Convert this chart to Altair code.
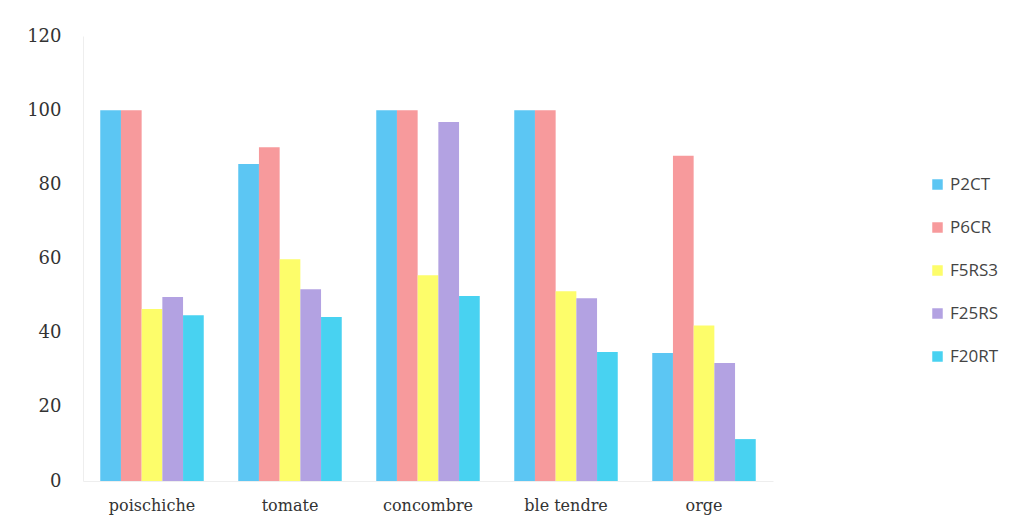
import altair as alt
import pandas as pd

crops = ["poischiche", "tomate", "concombre", "ble tendre", "orge"]
strains = ["P2CT", "P6CR", "F5RS3", "F25RS", "F20RT"]
colors = ["#5cc6f3", "#f79a9c", "#fdfd6a", "#b3a2e2", "#48d2f1"]

p2ct = [100, 85.5, 100, 100, 34.5]
p6cr = [100, 90, 100, 100, 87.7]
f5rs3 = [46.4, 59.8, 55.5, 51.2, 41.9]
f25rs = [49.6, 51.7, 96.8, 49.3, 31.8]
f20rt = [44.7, 44.2, 49.9, 34.8, 11.3]

series = [p2ct, p6cr, f5rs3, f25rs, f20rt]
rows = []
for s, vals in zip(strains, series):
    for c, v in zip(crops, vals):
        rows.append({"culture": c, "souche": s, "valeur": v})
df = pd.DataFrame(rows)

chart = (
    alt.Chart(df)
    .mark_bar()
    .encode(
        x=alt.X(
            "culture:N",
            sort=crops,
            scale=alt.Scale(paddingInner=0.25, paddingOuter=0.125),
            axis=alt.Axis(
                title=None,
                labelAngle=0,
                labelFont="DejaVu Serif",
                labelFontSize=16,
                labelColor="#333333",
                labelPadding=16,
                ticks=False,
                domainColor="#eeeeee",
            ),
        ),
        xOffset=alt.XOffset("souche:N", sort=strains, scale=alt.Scale(paddingInner=0.0)),
        y=alt.Y(
            "valeur:Q",
            scale=alt.Scale(domain=[0, 120]),
            axis=alt.Axis(
                title=None,
                values=[0, 20, 40, 60, 80, 100, 120],
                grid=False,
                ticks=False,
                labelFont="DejaVu Serif",
                labelFontSize=18,
                labelColor="#333333",
                labelPadding=22,
                domainColor="#eeeeee",
            ),
        ),
        color=alt.Color(
            "souche:N",
            sort=strains,
            scale=alt.Scale(domain=strains, range=colors),
            legend=alt.Legend(
                title=None,
                orient="none",
                legendX=846,
                legendY=140,
                symbolType="square",
                symbolSize=110,
                symbolStrokeWidth=0,
                labelFont="Open Sans",
                labelFontSize=17,
                labelColor="#444444",
                rowPadding=25,
                labelOffset=4,
            ),
        ),
    )
    .properties(
        width=690,
        height=445,
        padding={"left": 83, "top": 36, "right": 263, "bottom": 44},
        autosize=alt.AutoSizeParams(type="none"),
    )
    .configure(background="white")
    .configure_view(strokeWidth=0)
)

chart.save("out.html", embed_options={"renderer": "svg", "actions": False})
